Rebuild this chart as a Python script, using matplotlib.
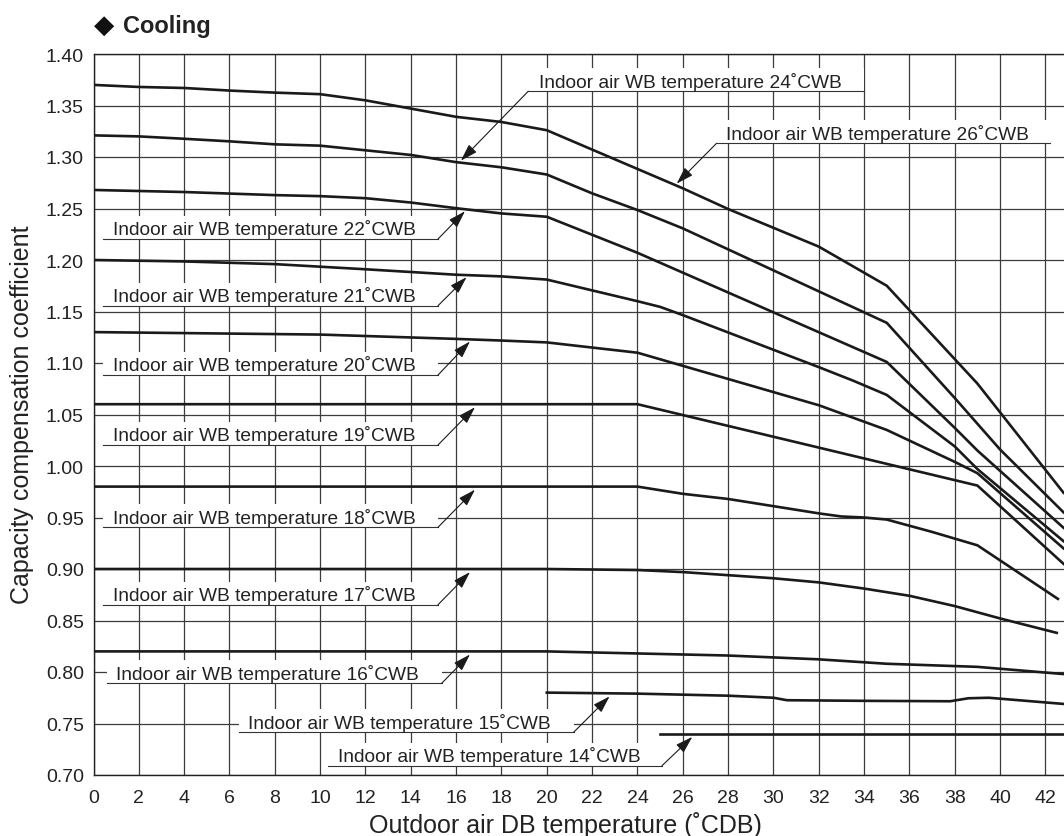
import numpy as np
import matplotlib
matplotlib.use("Agg")
import matplotlib.pyplot as plt
from matplotlib.patches import Rectangle

plt.rcParams['font.family'] = ['Liberation Sans', 'DejaVu Sans']

# ---------------- data ----------------
x_26 = [0, 2, 4, 6, 8, 10, 12, 14, 16, 18, 20, 26, 28, 32, 35, 39, 42.8]
y_26 = [1.370, 1.368, 1.367, 1.3645, 1.3625, 1.361, 1.355, 1.347, 1.339, 1.334, 1.326, 1.2696, 1.2495, 1.213, 1.175, 1.080, 0.974]

x_24 = [0, 2, 4, 6, 8, 10, 12, 14, 16, 18, 20, 22, 24, 26, 35, 38, 40, 42.8]
y_24 = [1.321, 1.320, 1.3177, 1.3152, 1.3123, 1.311, 1.3065, 1.302, 1.295, 1.290, 1.283, 1.2647, 1.2485, 1.2307, 1.139, 1.066, 1.016, 0.955]

x_22 = [0, 4, 8, 10, 12, 14, 16, 18, 20, 24, 35, 38, 39, 42.8]
y_22 = [1.268, 1.266, 1.263, 1.262, 1.260, 1.2558, 1.2503, 1.2452, 1.242, 1.207, 1.101, 1.037, 1.015, 0.940]

x_21 = [0, 4, 8, 10, 12, 16, 18, 20, 24, 25, 26, 32, 33.5, 35, 38, 39, 42.8]
y_21 = [1.200, 1.1986, 1.196, 1.1935, 1.191, 1.1857, 1.1841, 1.181, 1.160, 1.1545, 1.1465, 1.096, 1.083, 1.069, 1.019, 0.997, 0.927]

x_20 = [0, 10, 16, 18, 20, 24, 32, 35, 38, 39, 42.8]
y_20 = [1.130, 1.1276, 1.1234, 1.1218, 1.120, 1.110, 1.059, 1.035, 1.004, 0.993, 0.920]

x_19 = [0, 24, 39, 42.8]
y_19 = [1.060, 1.060, 0.981, 0.905]

x_18 = [0, 24, 26, 28, 30, 32, 33, 34, 35, 37, 39, 42.55]
y_18 = [0.980, 0.980, 0.973, 0.968, 0.961, 0.954, 0.951, 0.950, 0.948, 0.936, 0.923, 0.871]

x_17 = [0, 20, 24, 26, 28, 30, 32, 34, 36, 38, 40, 42.5]
y_17 = [0.900, 0.900, 0.899, 0.897, 0.894, 0.891, 0.887, 0.881, 0.874, 0.864, 0.852, 0.838]

x_16 = [0, 20, 24, 28, 32, 35, 39, 42.8]
y_16 = [0.820, 0.820, 0.818, 0.816, 0.8123, 0.808, 0.805, 0.798]

x_15 = [20, 24, 28, 30, 30.6, 34, 37.8, 38.6, 39.5, 42.8]
y_15 = [0.780, 0.779, 0.777, 0.775, 0.7726, 0.772, 0.7716, 0.7745, 0.775, 0.769]

x_14 = [25, 42.8]
y_14 = [0.740, 0.740]

wb_temps = [26, 24, 22, 21, 20, 19, 18, 17, 16, 15, 14]
curves_x = [x_26, x_24, x_22, x_21, x_20, x_19, x_18, x_17, x_16, x_15, x_14]
curves_y = [y_26, y_24, y_22, y_21, y_20, y_19, y_18, y_17, y_16, y_15, y_14]

x_ticks = list(range(0, 43, 2))
y_ticks = [0.70, 0.75, 0.80, 0.85, 0.90, 0.95, 1.00, 1.05, 1.10, 1.15, 1.20, 1.25, 1.30, 1.35, 1.40]

label_fmt = "Indoor air WB temperature {}˚CWB"

# ---------------- layout (label placement, data units) ----------------
# temp: (underline y, underline x0, underline x1, text x, leader start side, arrow tip x, tip offset)
label_layout = {
    26: (1.3133, 27.49, 42.2, 27.90, 'left', 25.73, +0.002),
    24: (1.3638, 19.18, 34.0, 19.65, 'left', 16.21, +0.002),
    22: (1.2204, 0.42, 15.2, 0.85, 'right', 16.39, -0.002),
    21: (1.1556, 0.42, 15.2, 0.85, 'right', 16.46, -0.002),
    20: (1.0883, 0.42, 15.2, 0.85, 'right', 16.61, -0.002),
    19: (1.0204, 0.42, 15.2, 0.85, 'right', 16.83, -0.003),
    18: (0.9405, 0.42, 15.2, 0.85, 'right', 16.83, -0.003),
    17: (0.8653, 0.42, 15.2, 0.85, 'right', 16.61, -0.003),
    16: (0.7890, 0.58, 15.36, 0.99, 'right', 16.61, -0.003),
    15: (0.7414, 6.42, 21.18, 6.83, 'right', 22.77, -0.003),
    14: (0.7090, 10.36, 25.08, 10.77, 'right', 26.42, -0.003),
}

W, H = 1064, 837
fig = plt.figure(figsize=(W / 100, H / 100), dpi=100)
ax = fig.add_axes([93.5 / W, (H - 776) / H, (W - 93.5) / W, 721 / H])

ax.set_xlim(0, 42.82)
ax.set_ylim(0.70, 1.40)
ax.set_xticks(x_ticks)
ax.set_yticks(y_ticks)
ax.set_xticklabels([str(v) for v in x_ticks])
ax.set_yticklabels([f"{v:.2f}" for v in y_ticks])
ax.tick_params(axis='both', length=0, labelsize=14, colors='#222222')
ax.tick_params(axis='y', pad=7)
ax.tick_params(axis='x', pad=10)

ax.set_axisbelow(True)
ax.grid(True, color='#3c3c3c', linewidth=0.9)
for s in ['left', 'bottom', 'top']:
    ax.spines[s].set_color('#222222')
    ax.spines[s].set_linewidth(1.0)
ax.spines['right'].set_visible(False)

for xs, ys in zip(curves_x, curves_y):
    ax.plot(xs, ys, color='#1a1a1a', linewidth=1.9, zorder=3, solid_joinstyle='miter')

box_h = 0.0225
for t, xs, ys in zip(wb_temps, curves_x, curves_y):
    ul, x0, x1, tx, side, tipx, off = label_layout[t]
    ax.add_patch(Rectangle((x0, ul), x1 - x0, box_h, facecolor='white',
                           edgecolor='none', zorder=1.5))
    ax.text(tx, ul + 0.0046, label_fmt.format(t), fontsize=13.8,
            ha='left', va='baseline', color='#222222', zorder=2.5)
    ax.plot([x0, x1], [ul, ul], color='#333333', linewidth=0.8, zorder=2)
    sx = x1 if side == 'right' else x0
    tipy = float(np.interp(tipx, xs, ys)) + off
    ax.annotate('', xy=(tipx, tipy), xytext=(sx, ul),
                arrowprops=dict(arrowstyle='-|>,head_length=0.7,head_width=0.22',
                                mutation_scale=15, color='#1a1a1a', lw=0.8,
                                shrinkA=0, shrinkB=0),
                zorder=4)

fig.text(22 / W, 1 - 415 / H, "Capacity compensation coefficient", rotation=90,
         ha='center', va='center', fontsize=18, color='#222222')
fig.text(565 / W, 1 - 833 / H, "Outdoor air DB temperature (˚CDB)",
         ha='center', va='baseline', fontsize=18, color='#222222')

fig.text(94 / W, 1 - 33 / H, "◆", ha='left', va='baseline', fontsize=19,
         family=['DejaVu Sans'], color='#111111')
fig.text(123 / W, 1 - 33 / H, "Cooling", ha='left', va='baseline', fontsize=17,
         fontweight='bold', color='#222222')

fig.savefig("out.png", dpi=100)
